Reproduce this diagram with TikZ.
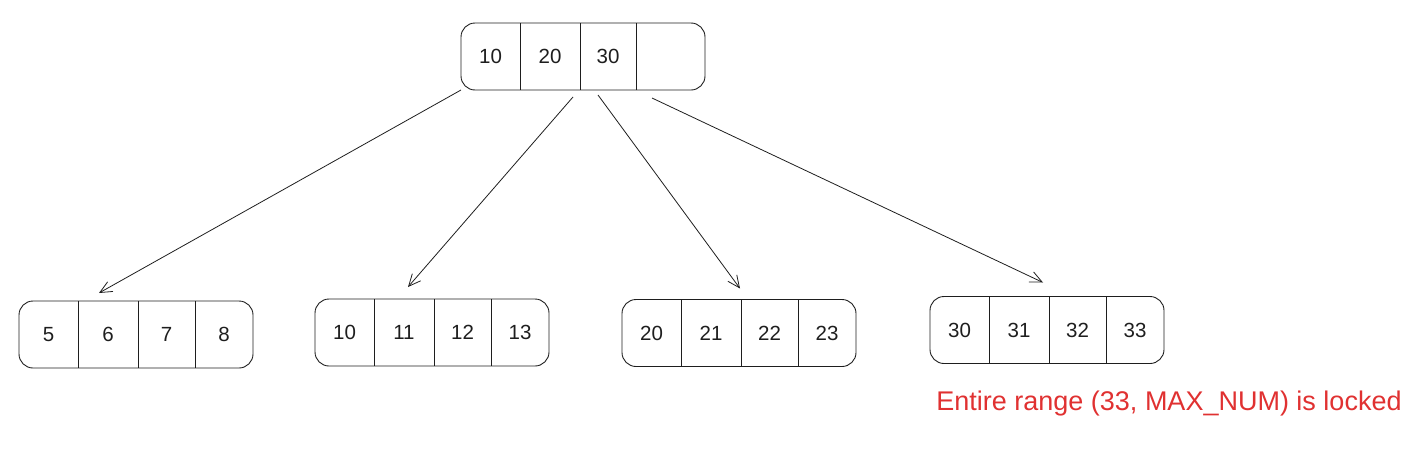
\documentclass[tikz,border=0pt]{standalone}
\usepackage{fontspec}
\setmainfont{Liberation Sans}
\usetikzlibrary{positioning,calc,arrows.meta}
\definecolor{inkgrey}{HTML}{1E1E1E}
\definecolor{lockred}{HTML}{E03131}

\begin{document}
\begin{tikzpicture}[x=1pt,y=-1pt,
  keycell/.style={minimum height=67pt,inner sep=0pt,outer sep=0pt,
    font=\fontsize{20.5}{24}\selectfont,text=inkgrey},
  boxline/.style={draw=inkgrey,line width=0.9pt},
  link/.style={draw=inkgrey,line width=0.8pt,-{Straight Barb[length=12pt,width=11pt]}}]
\useasboundingbox (0,0) rectangle (1424,450);
% root
\node[keycell,minimum width=59pt] (root-1) at (490.5,56.5) {10};
\node[keycell,minimum width=60pt,right=0pt of root-1] (root-2) {20};
\node[keycell,minimum width=56pt,right=0pt of root-2] (root-3) {30};
\node[keycell,minimum width=69pt,right=0pt of root-3] (root-4) {};
\draw[boxline,rounded corners=14pt] (root-1.north west) rectangle (root-4.south east);
\foreach \i in {1,2,3}
  \draw[boxline] (root-\i.north east) -- (root-\i.south east);
% leaves
\foreach \n/\x/\y/\ka/\kb/\kc/\kd in {a/19/334.5/5/6/7/8,b/315/332.5/10/11/12/13,
    c/622/333/20/21/22/23,d/930/330/30/31/32/33} {
  \node[keycell,minimum width=59pt] (\n-1) at (\x+29.5,\y) {\ka};
  \node[keycell,minimum width=60pt,right=0pt of \n-1] (\n-2) {\kb};
  \node[keycell,minimum width=57pt,right=0pt of \n-2] (\n-3) {\kc};
  \node[keycell,minimum width=58pt,right=0pt of \n-3] (\n-4) {\kd};
  \draw[boxline,rounded corners=14pt] (\n-1.north west) rectangle (\n-4.south east);
  \foreach \i in {1,2,3}
    \draw[boxline] (\n-\i.north east) -- (\n-\i.south east);
}
% pointers
\draw[link] (root-1.south west) -- ($(a-2.north west)+(21,-8)$);
\draw[link] ($(root-2.south east)+(-7,7)$) -- ($(b-2.north west)+(34,-12)$);
\draw[link] ($(root-3.south west)+(18,5)$) -- ($(c-3.north west)+(-1,-11)$);
\draw[link] ($(root-4.south west)+(16,8)$) -- ($(d-3.north west)+(-6,-14)$);
\node[text=lockred,font=\fontsize{27}{32}\selectfont] (lock) at (1169,404) {Entire range (33, MAX\_NUM) is locked};
\end{tikzpicture}
\end{document}
